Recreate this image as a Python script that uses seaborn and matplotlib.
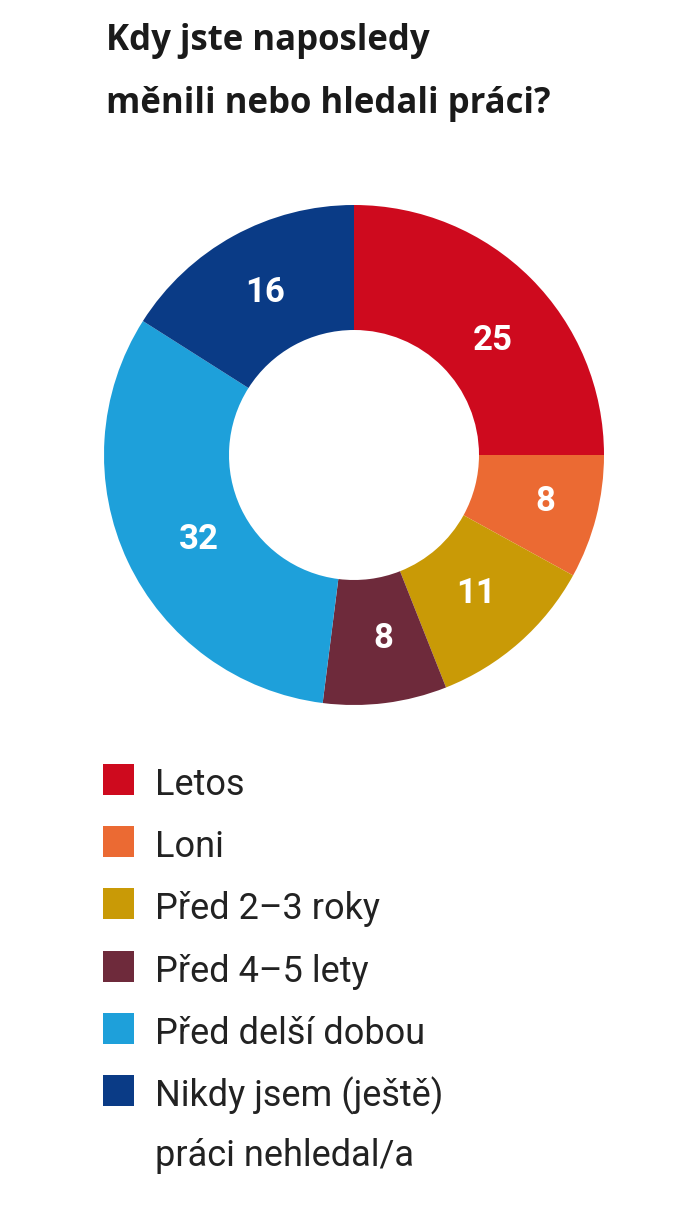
import matplotlib
matplotlib.use("Agg")
import matplotlib.pyplot as plt
from matplotlib.patches import Rectangle
import seaborn as sns

# data
categories = ["Letos", "Loni", "Před 2–3 roky", "Před 4–5 lety",
              "Před delší dobou", "Nikdy jsem (ještě)\npráci nehledal/a"]
values = [25, 8, 11, 8, 32, 16]
colors = ["#CE0A1E", "#EB6A33", "#C99A06", "#6E2A3B", "#1EA0DA", "#0A3B86"]
title_lines = ["Kdy jste naposledy", "měnili nebo hledali práci?"]

sns.set_theme(style="white")
plt.rcParams['font.family'] = ['Roboto', 'DejaVu Sans']

W, H = 688, 1208
fig = plt.figure(figsize=(W / 100, H / 100), dpi=100)
fig.patch.set_facecolor("white")

# donut: centre (354, 455), outer radius 250 px
cx, cy, r = 354, 455, 250
pad = 1.04
ax = fig.add_axes([(cx - r * pad) / W, (H - cy - r * pad) / H,
                   2 * r * pad / W, 2 * r * pad / H])
palette = sns.color_palette(colors)
wedges, texts, autotexts = ax.pie(
    values, colors=palette, startangle=90, counterclock=False,
    wedgeprops=dict(width=0.5, edgecolor="none", linewidth=0),
    autopct=lambda p: f"{p:.0f}", pctdistance=0.74,
    textprops=dict(color="white", fontsize=25, fontweight="bold"))
# small hand nudges of the value labels, like the original layout
nudges = [(0.032, -0.064), (0.048, 0.0), (0.0, 0.0),
          (0.024, 0.0), (0.048, -0.024), (0.0, 0.0)]
for t, (dx, dy) in zip(autotexts, nudges):
    x, y = t.get_position()
    t.set_position((x + dx, y + dy))
ax.set_xlim(-pad, pad)
ax.set_ylim(-pad, pad)
ax.set_aspect("equal")
ax.axis("off")

# overlay in pixel coordinates for title and legend
ov = fig.add_axes([0, 0, 1, 1], zorder=-1)
ov.set_xlim(0, W)
ov.set_ylim(H, 0)
ov.axis("off")

for k, line in enumerate(title_lines):
    ov.text(106, 50 + k * 63, line, fontsize=25, fontweight="bold",
            family=["Open Sans", "DejaVu Sans"], color="#1a1a1a",
            va="baseline", ha="left")

top0, step, sq = 764, 62.2, 31
for i, (lab, col) in enumerate(zip(categories, colors)):
    top = top0 + i * step
    ov.add_patch(Rectangle((103, top), sq, sq, facecolor=col, edgecolor="none"))
    for k, line in enumerate(lab.split("\n")):
        ov.text(155, top + sq + k * 60, line, fontsize=26, color="#222222",
                va="baseline", ha="left")

fig.savefig("out.png", dpi=100, facecolor="white")
